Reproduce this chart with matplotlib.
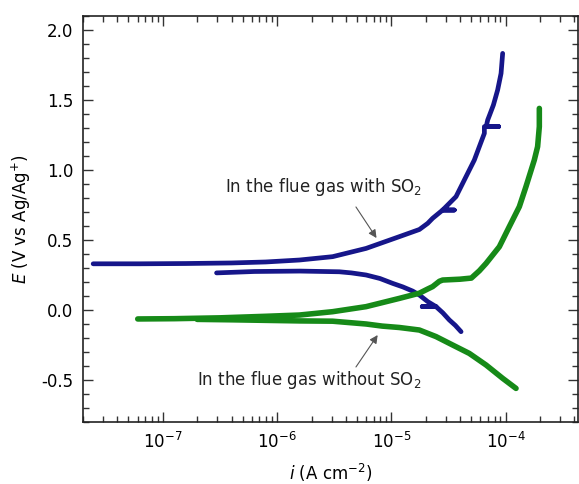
import numpy as np
import matplotlib
matplotlib.use("Agg")
import matplotlib.pyplot as plt
from matplotlib.ticker import MultipleLocator, LogLocator

plt.rcParams['font.family'] = ['DejaVu Sans']
plt.rcParams['axes.unicode_minus'] = False
plt.rcParams['mathtext.fontset'] = 'dejavusans'

# ---- data (log10 of current density in A cm-2, potential in V) ----
# In the flue gas with SO2: cathodic branch (high current -> Ecorr)
so2_cath_logi = [-4.39, -4.44, -4.493, -4.55, -4.609, -4.73, -4.609, -4.682, -4.755, -4.813, -4.90, -4.988,
                 -5.10, -5.221, -5.35, -5.455, -5.80, -6.20, -6.53]
so2_cath_E    = [-0.155, -0.11, -0.071, -0.02, 0.024, 0.024, 0.024, 0.06, 0.107, 0.135, 0.165, 0.19,
                 0.225, 0.25, 0.265, 0.273, 0.278, 0.275, 0.265]
# In the flue gas with SO2: anodic branch (Ecorr -> high current)
so2_anod_logi = [-7.61, -7.20, -6.80, -6.40, -6.10, -5.805, -5.514, -5.221, -4.93, -4.755, -4.682, -4.639, -4.551,
                 -4.449, -4.551, -4.434, -4.347, -4.274, -4.23, -4.186, -4.186, -4.061, -4.17, -4.157, -4.14,
                 -4.107, -4.07, -4.04, -4.026]
so2_anod_E    = [0.330, 0.330, 0.332, 0.336, 0.343, 0.357, 0.381, 0.440, 0.524, 0.575, 0.619, 0.655, 0.714,
                 0.714, 0.714, 0.810, 0.952, 1.071, 1.167, 1.262, 1.310, 1.310, 1.310, 1.357, 1.393,
                 1.464, 1.571, 1.690, 1.833]

# In the flue gas without SO2: cathodic branch
noso2_cath_logi = [-3.909, -4.026, -4.171, -4.318, -4.464, -4.609, -4.755, -4.93, -5.08, -5.221, -5.514,
                   -5.80, -6.10, -6.40, -6.70]
noso2_cath_E    = [-0.560, -0.488, -0.393, -0.310, -0.250, -0.190, -0.143, -0.125, -0.115, -0.100, -0.080,
                   -0.078, -0.074, -0.070, -0.067]
# In the flue gas without SO2: anodic branch
noso2_anod_logi = [-7.22, -6.90, -6.50, -6.10, -5.805, -5.514, -5.221, -4.93, -4.755, -4.682, -4.639, -4.58,
                   -4.551, -4.40, -4.30, -4.23, -4.171, -4.055, -3.968, -3.88, -3.822, -3.749, -3.72, -3.705, -3.705]
noso2_anod_E    = [-0.064, -0.062, -0.056, -0.045, -0.036, -0.012, 0.024, 0.083, 0.120, 0.150, 0.167, 0.205,
                   0.214, 0.220, 0.228, 0.280, 0.333, 0.452, 0.595, 0.738, 0.881, 1.071, 1.167, 1.310, 1.440]

x_ticks = [1e-7, 1e-6, 1e-5, 1e-4]
y_ticks = [-0.5, 0.0, 0.5, 1.0, 1.5, 2.0]

blue = '#16168a'
green = '#168a18'

fig = plt.figure(figsize=(5.79, 4.84), dpi=100)
ax = fig.add_axes([83/579, 1-422/484, (578-83)/579, (422-16)/484])

kw = dict(solid_capstyle='round', solid_joinstyle='round')
ax.plot(10**np.array(so2_cath_logi), so2_cath_E, color=blue, lw=3.4, **kw)
ax.plot(10**np.array(so2_anod_logi), so2_anod_E, color=blue, lw=3.4, **kw)
ax.plot(10**np.array(noso2_cath_logi), noso2_cath_E, color=green, lw=4.0, **kw)
ax.plot(10**np.array(noso2_anod_logi), noso2_anod_E, color=green, lw=4.0, **kw)

ax.set_xscale('log')
ax.set_xlim(2e-8, 4.3e-4)
ax.set_ylim(-0.8, 2.1)
ax.set_xticks(x_ticks)
ax.xaxis.set_minor_locator(LogLocator(base=10, subs=np.arange(2, 10)))
ax.set_yticks(y_ticks)
ax.set_yticklabels([f"{v:.1f}" for v in y_ticks])
ax.yaxis.set_minor_locator(MultipleLocator(0.1))

ax.tick_params(which='both', direction='in', top=True, right=True, labelsize=12, width=1.0, color='#333333')
ax.tick_params(which='major', length=7, pad=7)
ax.tick_params(which='minor', length=4)
for s in ax.spines.values():
    s.set_linewidth(1.2)
    s.set_color('#222222')

ax.set_xlabel(r"$i$ (A cm$^{-2}$)", fontsize=12, labelpad=7)
ax.set_ylabel(r"$E$ (V vs Ag/Ag$^{+}$)", fontsize=12, labelpad=6)

ax.text(10**-6.46, 0.88, r"In the flue gas with SO$_2$", fontsize=12, va='center', ha='left', color='#222222')
ax.annotate("", xy=(10**-5.13, 0.514), xytext=(10**-5.31, 0.736),
            arrowprops=dict(arrowstyle='-|>', color='#555555', lw=0.8, mutation_scale=12, shrinkA=0, shrinkB=0))
ax.text(10**-6.70, -0.50, r"In the flue gas without SO$_2$", fontsize=12, va='center', ha='left', color='#222222')
ax.annotate("", xy=(10**-5.12, -0.179), xytext=(10**-5.31, -0.407),
            arrowprops=dict(arrowstyle='-|>', color='#555555', lw=0.8, mutation_scale=12, shrinkA=0, shrinkB=0))

fig.savefig("out.png", dpi=100)
